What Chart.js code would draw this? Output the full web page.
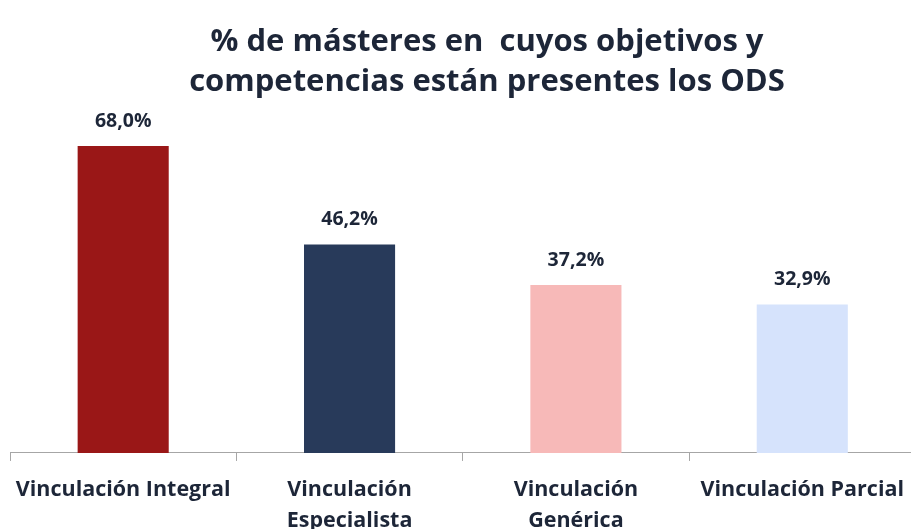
<!DOCTYPE html>
<html>
<head>
<meta charset="utf-8">
<script src="https://cdn.jsdelivr.net/npm/chart.js@4"></script>
<style>
  html, body { margin: 0; padding: 0; background: #fff; overflow: hidden; }
  #wrap { width: 918px; height: 529px; }
</style>
</head>
<body>
<div id="wrap"><canvas id="chart"></canvas></div>
<script>
// data
const categories = [
  "Vinculación Integral",
  ["Vinculación", "Especialista"],
  ["Vinculación", "Genérica"],
  "Vinculación Parcial"
];
const values = [68.0, 46.2, 37.2, 32.9];
const barColors = ["#9a1717", "#283a5a", "#f7b9b8", "#d6e3fc"];
const titleLines = ["% de másteres en  cuyos objetivos y", "competencias están presentes los ODS"];

const textColor = "#1d2638";
const fontFamily = "'Open Sans', sans-serif";

// draws the value above each bar
const valueLabels = {
  id: "valueLabels",
  afterDatasetsDraw(chart) {
    const ctx = chart.ctx;
    const meta = chart.getDatasetMeta(0);
    ctx.save();
    ctx.font = "bold 19.5px " + fontFamily;
    ctx.fillStyle = textColor;
    ctx.textAlign = "center";
    ctx.textBaseline = "middle";
    meta.data.forEach((bar, i) => {
      const txt = values[i].toFixed(1).replace(".", ",") + "%";
      ctx.fillText(txt, bar.x, bar.y - 25);
    });
    ctx.restore();
  }
};

// the title in the original sits a bit right of centre
const shiftTitle = {
  id: "shiftTitle",
  afterLayout(chart) {
    const t = chart.titleBlock;
    if (t) { t.left += 23; t.right += 23; }
  }
};

new Chart(document.getElementById("chart"), {
  type: "bar",
  data: {
    labels: categories,
    datasets: [{
      data: values,
      backgroundColor: barColors,
      borderWidth: 0,
      categoryPercentage: 0.8,
      barPercentage: 0.503
    }]
  },
  options: {
    responsive: true,
    maintainAspectRatio: false,
    animation: false,
    layout: { padding: { left: 10, right: 0, top: 0, bottom: -21 } },
    plugins: {
      legend: { display: false },
      tooltip: { enabled: false },
      title: {
        display: true,
        text: titleLines,
        color: textColor,
        font: { family: fontFamily, size: 31, weight: "bold", lineHeight: 1.29 },
        padding: { top: 22, bottom: 2 }
      }
    },
    scales: {
      y: { display: false, min: 0, max: 77.3 },
      x: {
        border: { display: true, color: "#a6a6a6", width: 1 },
        grid: {
          offset: true,
          drawOnChartArea: false,
          drawTicks: true,
          tickLength: 8,
          color: "#a6a6a6"
        },
        ticks: {
          color: textColor,
          font: { family: fontFamily, size: 21.5, weight: "bold", lineHeight: 1.42 },
          padding: 14,
          maxRotation: 0,
          autoSkip: false
        }
      }
    }
  },
  plugins: [valueLabels, shiftTitle]
});
</script>
</body>
</html>
